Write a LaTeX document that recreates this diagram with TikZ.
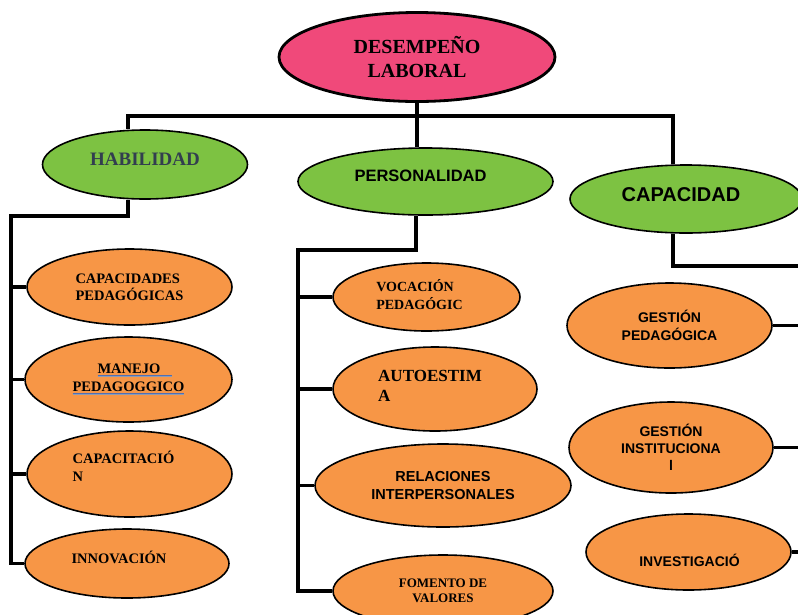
\documentclass[tikz,border=0pt]{standalone}
\usepackage{fontspec}
\setmainfont{Liberation Serif}
\newfontfamily\arialfont{Liberation Sans}
\usetikzlibrary{shapes.geometric}
\definecolor{rosa}{HTML}{F0497A}
\definecolor{verde}{HTML}{7DC242}
\definecolor{naranja}{HTML}{F79646}
\definecolor{pizarra}{HTML}{323E4F}
\definecolor{subazul}{HTML}{4F6FB5}
\definecolor{subgris}{HTML}{8E9BB3}
\newcommand\fsz[2]{\fontsize{#1}{#2}\selectfont}
% double underline as Word draws it
\newcommand\dobleraya[1]{\setbox0\hbox{#1}\rlap{\color{subazul}\rule[-2.2pt]{\wd0}{0.8pt}}\rlap{\color{subgris}\rule[-3.8pt]{\wd0}{0.8pt}}\box0}
% text set off the centre of its oval (dx, dy up)
\newcommand\mover[3]{\raisebox{#2}[\height][\depth]{\makebox[0pt][l]{\hspace*{#1}#3}\phantom{#3}}}

\begin{document}
\begin{tikzpicture}[x=1pt,y=-1pt,
    oval/.style={ellipse,draw=black,line width=1.6pt,inner sep=0pt,align=left},
    naranjo/.style={oval,fill=naranja},
    verdeo/.style={oval,fill=verde,align=center},
    link/.style={line width=3.3pt,line join=miter}]

    \path[use as bounding box] (0,0) rectangle (798,614);
    \clip (0,0) rectangle (798,614);

    % Root: pink oval on top
    \node[oval,fill=rosa,line width=2.8pt,minimum width=276pt,minimum height=89pt,
        align=center,font={\fsz{20}{24}\bfseries}] (top) at (417,57) {DESEMPEÑO\\LABORAL};

    % Second level: green ovals
    \node[verdeo,minimum width=205pt,minimum height=69pt,
        font={\fsz{19}{22}\bfseries\color{pizarra}}] (hab) at (145,164.5) {\mover{0pt}{5pt}{HABILIDAD}};
    \node[verdeo,minimum width=255pt,minimum height=67pt,
        font={\arialfont\fsz{16.5}{20}\bfseries}] (per) at (425.5,181.5) {\mover{-5pt}{6pt}{PERSONALIDAD}};
    \node[verdeo,minimum width=232pt,minimum height=68pt,
        font={\arialfont\fsz{20}{24}\bfseries}] (cap) at (686,199) {\mover{-5pt}{4pt}{CAPACIDAD}};

    % Left column (HABILIDAD)
    \node[naranjo,minimum width=205pt,minimum height=76pt,font={\fsz{14.5}{17}\bfseries}]
        (cped) at (129.5,287) {CAPACIDADES\\PEDAGÓGICAS};
    \node[naranjo,minimum width=207pt,minimum height=85pt,font={\fsz{14.5}{18}\bfseries}]
        (manejo) at (128.5,379.5) {\hspace*{25pt}\dobleraya{MANEJO\hspace{12pt}}\\\dobleraya{PEDAGOGGICO}};
    \node[naranjo,minimum width=205pt,minimum height=86pt,font={\fsz{14.5}{18}\bfseries}]
        (capac) at (129.5,474) {\mover{-6pt}{5pt}{\begin{tabular}{@{}l@{}}CAPACITACIÓ\\N\end{tabular}}};
    \node[naranjo,minimum width=204pt,minimum height=69pt,font={\fsz{14.5}{17}\bfseries}]
        (innov) at (127,563.5) {\mover{-8pt}{6pt}{INNOVACIÓN}};

    % Middle column (PERSONALIDAD)
    \node[naranjo,minimum width=187pt,minimum height=68pt,font={\fsz{14}{17}\bfseries}]
        (voc) at (426.5,297) {\mover{-7pt}{0pt}{\begin{tabular}{@{}l@{}}VOCACIÓN\\PEDAGÓGIC\end{tabular}}};
    \node[naranjo,minimum width=204pt,minimum height=84pt,font={\fsz{17}{20}\bfseries}]
        (auto) at (435,389) {\mover{-5pt}{2pt}{\begin{tabular}{@{}l@{}}AUTOESTIM\\A\end{tabular}}};
    \node[naranjo,minimum width=256pt,minimum height=83pt,align=center,
        font={\arialfont\fsz{14.5}{18}\bfseries}] (rel) at (443,485.5) {RELACIONES\\INTERPERSONALES};
    \node[naranjo,minimum width=220pt,minimum height=72pt,align=center,font={\fsz{13}{15}\bfseries}]
        (fom) at (443,591) {FOMENTO DE\\VALORES};

    % Right column (CAPACIDAD)
    \node[naranjo,minimum width=205pt,minimum height=85pt,align=center,
        font={\arialfont\fsz{14}{18}\bfseries}] (gped) at (669.5,325.5) {GESTIÓN\\PEDAGÓGICA};
    \node[naranjo,minimum width=204pt,minimum height=91pt,align=center,
        font={\arialfont\fsz{14}{17}\bfseries}] (ginst) at (671,447.5) {GESTIÓN\\INSTITUCIONA\\l};
    \node[naranjo,minimum width=205pt,minimum height=76pt,align=center,
        font={\arialfont\fsz{14}{17}\bfseries}] (inv) at (688.5,552) {\mover{1pt}{-8pt}{INVESTIGACIÓ}};

    % Junction points of the trunks
    \coordinate (barL) at (128,116);
    \coordinate (barR) at (673,116);
    \coordinate (habK) at (128,216);
    \coordinate (leftT) at (11,216);
    \coordinate (perK) at (416,250);
    \coordinate (midT) at (298,250);
    \coordinate (capK) at (673,266);
    \coordinate (rightT) at (830,266);

    % Top connectors
    \draw[link] (barL |- hab.north) -- (barL) -- (barR) -- (barR |- cap.north);
    \draw[link] (top.south) -- (top.south |- per.north);

    % Left trunk and branches
    \draw[link] (habK |- hab.south) -- (habK) -- (leftT) |- (innov.west);
    \foreach \n in {cped,manejo,capac}
        \draw[link] (leftT |- \n.west) -- (\n.west);

    % Middle trunk and branches
    \draw[link] (perK |- per.south) -- (perK) -- (midT) |- (fom.west);
    \foreach \n in {voc,auto,rel}
        \draw[link] (midT |- \n.west) -- (\n.west);

    % Right trunk (runs off the page) and branches
    \draw[link] (capK |- cap.south) -- (capK) -- (rightT);
    \foreach \n in {gped,ginst,inv}
        \draw[link] (\n.east) -- (\n.east -| rightT);

\end{tikzpicture}
\end{document}
